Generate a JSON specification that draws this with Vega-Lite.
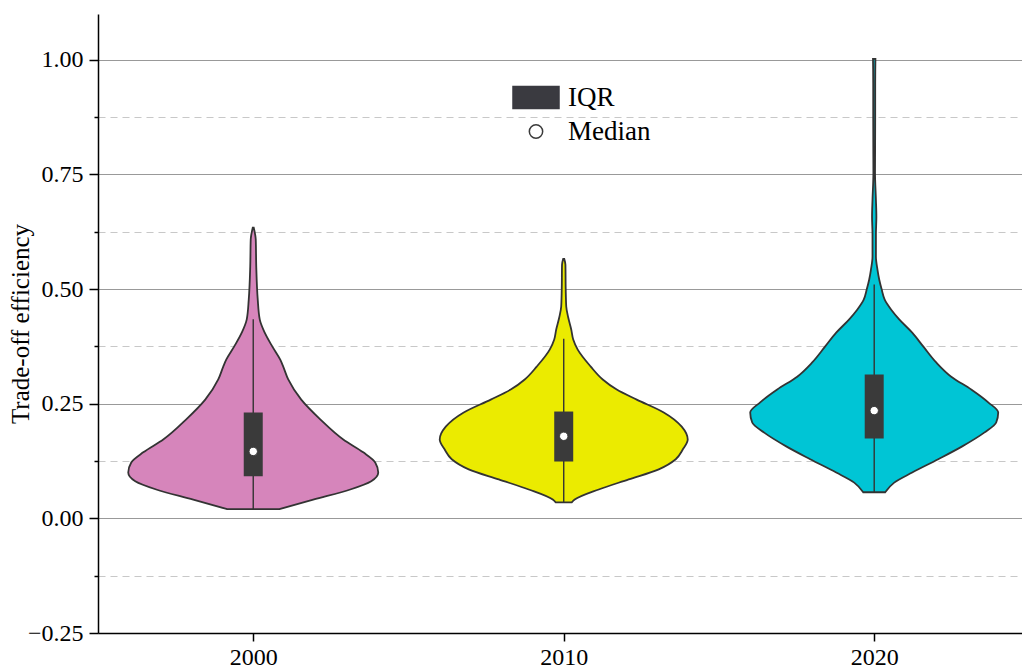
{
  "$schema": "https://vega.github.io/schema/vega-lite/v6.json",
  "autosize": "none",
  "width": 924,
  "height": 619,
  "padding": {"left": 98, "top": 14, "right": 0, "bottom": 38},
  "background": "white",
  "config": {"font": "Liberation Serif", "view": {"stroke": null}},
  "datasets": {
    "violin": [
      {"year": 2000, "v": 0.634, "lo": 1999.984, "hi": 2000.016},
      {"year": 2000, "v": 0.608, "lo": 1999.919, "hi": 2000.081},
      {"year": 2000, "v": 0.549, "lo": 1999.903, "hi": 2000.097},
      {"year": 2000, "v": 0.477, "lo": 1999.855, "hi": 2000.145},
      {"year": 2000, "v": 0.434, "lo": 1999.791, "hi": 2000.209},
      {"year": 2000, "v": 0.405, "lo": 1999.630, "hi": 2000.370},
      {"year": 2000, "v": 0.375, "lo": 1999.388, "hi": 2000.612},
      {"year": 2000, "v": 0.346, "lo": 1999.130, "hi": 2000.870},
      {"year": 2000, "v": 0.331, "lo": 1999.034, "hi": 2000.966},
      {"year": 2000, "v": 0.303, "lo": 1998.873, "hi": 2001.127},
      {"year": 2000, "v": 0.259, "lo": 1998.454, "hi": 2001.546},
      {"year": 2000, "v": 0.216, "lo": 1997.842, "hi": 2002.158},
      {"year": 2000, "v": 0.172, "lo": 1997.101, "hi": 2002.899},
      {"year": 2000, "v": 0.144, "lo": 1996.457, "hi": 2003.543},
      {"year": 2000, "v": 0.122, "lo": 1996.071, "hi": 2003.929},
      {"year": 2000, "v": 0.100, "lo": 1995.974, "hi": 2004.026},
      {"year": 2000, "v": 0.081, "lo": 1996.200, "hi": 2003.800},
      {"year": 2000, "v": 0.063, "lo": 1996.876, "hi": 2003.124},
      {"year": 2000, "v": 0.041, "lo": 1998.068, "hi": 2001.932},
      {"year": 2000, "v": 0.020, "lo": 1999.163, "hi": 2000.837},
      {"year": 2010, "v": 0.566, "lo": 2009.984, "hi": 2010.016},
      {"year": 2010, "v": 0.553, "lo": 2009.945, "hi": 2010.055},
      {"year": 2010, "v": 0.499, "lo": 2009.936, "hi": 2010.064},
      {"year": 2010, "v": 0.462, "lo": 2009.919, "hi": 2010.081},
      {"year": 2010, "v": 0.438, "lo": 2009.855, "hi": 2010.145},
      {"year": 2010, "v": 0.412, "lo": 2009.758, "hi": 2010.242},
      {"year": 2010, "v": 0.390, "lo": 2009.694, "hi": 2010.306},
      {"year": 2010, "v": 0.368, "lo": 2009.549, "hi": 2010.451},
      {"year": 2010, "v": 0.331, "lo": 2009.130, "hi": 2010.870},
      {"year": 2010, "v": 0.303, "lo": 2008.744, "hi": 2011.256},
      {"year": 2010, "v": 0.281, "lo": 2008.293, "hi": 2011.707},
      {"year": 2010, "v": 0.259, "lo": 2007.649, "hi": 2012.351},
      {"year": 2010, "v": 0.231, "lo": 2006.779, "hi": 2013.221},
      {"year": 2010, "v": 0.200, "lo": 2006.200, "hi": 2013.800},
      {"year": 2010, "v": 0.172, "lo": 2006.006, "hi": 2013.994},
      {"year": 2010, "v": 0.150, "lo": 2006.167, "hi": 2013.833},
      {"year": 2010, "v": 0.129, "lo": 2006.393, "hi": 2013.607},
      {"year": 2010, "v": 0.107, "lo": 2006.940, "hi": 2013.060},
      {"year": 2010, "v": 0.085, "lo": 2007.907, "hi": 2012.093},
      {"year": 2010, "v": 0.063, "lo": 2008.873, "hi": 2011.127},
      {"year": 2010, "v": 0.041, "lo": 2009.646, "hi": 2010.354},
      {"year": 2010, "v": 0.035, "lo": 2009.742, "hi": 2010.258},
      {"year": 2020, "v": 1.002, "lo": 2019.961, "hi": 2020.039},
      {"year": 2020, "v": 0.950, "lo": 2019.968, "hi": 2020.032},
      {"year": 2020, "v": 0.876, "lo": 2019.968, "hi": 2020.032},
      {"year": 2020, "v": 0.804, "lo": 2019.971, "hi": 2020.029},
      {"year": 2020, "v": 0.754, "lo": 2019.974, "hi": 2020.026},
      {"year": 2020, "v": 0.695, "lo": 2019.945, "hi": 2020.055},
      {"year": 2020, "v": 0.658, "lo": 2019.930, "hi": 2020.070},
      {"year": 2020, "v": 0.619, "lo": 2019.945, "hi": 2020.055},
      {"year": 2020, "v": 0.571, "lo": 2019.945, "hi": 2020.055},
      {"year": 2020, "v": 0.542, "lo": 2019.894, "hi": 2020.106},
      {"year": 2020, "v": 0.521, "lo": 2019.839, "hi": 2020.161},
      {"year": 2020, "v": 0.499, "lo": 2019.758, "hi": 2020.242},
      {"year": 2020, "v": 0.477, "lo": 2019.662, "hi": 2020.338},
      {"year": 2020, "v": 0.455, "lo": 2019.452, "hi": 2020.548},
      {"year": 2020, "v": 0.434, "lo": 2019.195, "hi": 2020.805},
      {"year": 2020, "v": 0.405, "lo": 2018.776, "hi": 2021.224},
      {"year": 2020, "v": 0.375, "lo": 2018.422, "hi": 2021.578},
      {"year": 2020, "v": 0.340, "lo": 2018.003, "hi": 2021.997},
      {"year": 2020, "v": 0.309, "lo": 2017.520, "hi": 2022.480},
      {"year": 2020, "v": 0.281, "lo": 2016.876, "hi": 2023.124},
      {"year": 2020, "v": 0.253, "lo": 2016.328, "hi": 2023.672},
      {"year": 2020, "v": 0.231, "lo": 2016.006, "hi": 2023.994},
      {"year": 2020, "v": 0.209, "lo": 2016.071, "hi": 2023.929},
      {"year": 2020, "v": 0.187, "lo": 2016.457, "hi": 2023.543},
      {"year": 2020, "v": 0.157, "lo": 2017.166, "hi": 2022.834},
      {"year": 2020, "v": 0.129, "lo": 2017.939, "hi": 2022.061},
      {"year": 2020, "v": 0.100, "lo": 2018.776, "hi": 2021.224},
      {"year": 2020, "v": 0.078, "lo": 2019.356, "hi": 2020.644},
      {"year": 2020, "v": 0.057, "lo": 2019.646, "hi": 2020.354}
    ],
    "stats": [
      {"year": 2000, "q1": 0.092, "q3": 0.231, "med": 0.146, "wlo": 0.020, "whi": 0.434},
      {"year": 2010, "q1": 0.124, "q3": 0.233, "med": 0.179, "wlo": 0.035, "whi": 0.392},
      {"year": 2020, "q1": 0.174, "q3": 0.314, "med": 0.235, "wlo": 0.057, "whi": 0.510}
    ]
  },
  "layer": [
    {
      "data": {"name": "violin"},
      "mark": {"type": "area", "orient": "horizontal", "interpolate": "monotone", "stroke": "#333333", "strokeWidth": 1.8},
      "encoding": {
        "y": {"field": "v", "type": "quantitative",
          "scale": {"domain": [-0.25, 1.1], "nice": false, "zero": false},
          "axis": {
            "values": [-0.25, -0.125, 0, 0.125, 0.25, 0.375, 0.5, 0.625, 0.75, 0.875, 1.0],
            "labelExpr": "abs(datum.value*4 - round(datum.value*4)) > 0.01 ? '' : format(datum.value, '.2f')",
            "title": "Trade-off efficiency",
            "titleFont": "Liberation Serif", "titleFontSize": 25, "titleFontWeight": "normal", "titleColor": "black", "titlePadding": -6,
            "labelFont": "Liberation Serif", "labelFontSize": 24, "labelColor": "black", "labelPadding": 6,
            "domainColor": "black", "domainWidth": 1.5,
            "tickColor": "black", "tickWidth": 1.5,
            "tickSize": {"condition": {"test": "abs(datum.value*4 - round(datum.value*4)) < 0.01", "value": 9}, "value": 4},
            "grid": true,
            "gridColor": {"condition": {"test": "abs(datum.value*4 - round(datum.value*4)) < 0.01", "value": "#999999"}, "value": "#c8c8c8"},
            "gridDash": {"condition": {"test": "abs(datum.value*4 - round(datum.value*4)) < 0.01", "value": []}, "value": [7, 5]},
            "gridWidth": 1.2
          }
        },
        "x": {"field": "lo", "type": "quantitative",
          "scale": {"domain": [1995, 2024.76], "nice": false, "zero": false, "padding": 0},
          "axis": {
            "values": [2000, 2010, 2020], "format": "d", "title": null, "grid": false,
            "labelFont": "Liberation Serif", "labelFontSize": 24, "labelColor": "black", "labelPadding": 4,
            "domainColor": "black", "domainWidth": 1.5,
            "tickColor": "black", "tickWidth": 1.5, "tickSize": 8
          }
        },
        "x2": {"field": "hi"},
        "detail": {"field": "year", "type": "nominal"},
        "color": {"field": "year", "type": "nominal",
          "scale": {"domain": [2000, 2010, 2020], "range": ["#d685bb", "#ebeb00", "#00c5d5"]},
          "legend": null}
      }
    },
    {
      "data": {"name": "stats"},
      "mark": {"type": "rule", "color": "#333333", "strokeWidth": 1.4},
      "encoding": {
        "x": {"field": "year", "type": "quantitative"},
        "y": {"field": "wlo", "type": "quantitative"},
        "y2": {"field": "whi"}
      }
    },
    {
      "data": {"name": "stats"},
      "mark": {"type": "bar", "orient": "vertical", "color": "#3a3a3a", "size": 19},
      "encoding": {
        "x": {"field": "year", "type": "quantitative"},
        "y": {"field": "q1", "type": "quantitative"},
        "y2": {"field": "q3"}
      }
    },
    {
      "data": {"name": "stats"},
      "mark": {"type": "point", "filled": true, "size": 210, "opacity": 1, "strokeWidth": 1},
      "encoding": {
        "x": {"field": "year", "type": "quantitative"},
        "y": {"field": "med", "type": "quantitative"},
        "fill": {"datum": "Median", "type": "nominal",
          "scale": {"domain": ["IQR", "Median"], "range": ["#3a3a40", "#ffffff"]},
          "legend": {"orient": "none", "legendX": 424.5, "legendY": 70, "title": null, "padding": 0,
            "labelFont": "Liberation Serif", "labelFontSize": 27, "labelColor": "black", "labelOffset": 18.5,
            "symbolSize": 529, "rowPadding": 5}},
        "stroke": {"datum": "Median", "type": "nominal",
          "scale": {"domain": ["IQR", "Median"], "range": ["#3a3a40", "#3a3a3a"]},
          "legend": {"orient": "none", "legendX": 424.5, "legendY": 70, "title": null, "padding": 0,
            "labelFont": "Liberation Serif", "labelFontSize": 27, "labelColor": "black", "labelOffset": 18.5,
            "symbolSize": 529, "rowPadding": 5}},
        "shape": {"datum": "Median", "type": "nominal",
          "scale": {"domain": ["IQR", "Median"], "range": ["M-2,-0.96L2,-0.96L2,0.96L-2,0.96Z", "M-0.58,0A0.58,0.58,0,1,0,0.58,0A0.58,0.58,0,1,0,-0.58,0Z"]},
          "legend": {"orient": "none", "legendX": 424.5, "legendY": 70, "title": null, "padding": 0,
            "labelFont": "Liberation Serif", "labelFontSize": 27, "labelColor": "black", "labelOffset": 18.5,
            "symbolSize": 529, "rowPadding": 5}}
      }
    },
    {
      "mark": {"type": "rule", "color": "black", "strokeWidth": 1.5},
      "encoding": {"y": {"datum": 1.1}}
    }
  ]
}
